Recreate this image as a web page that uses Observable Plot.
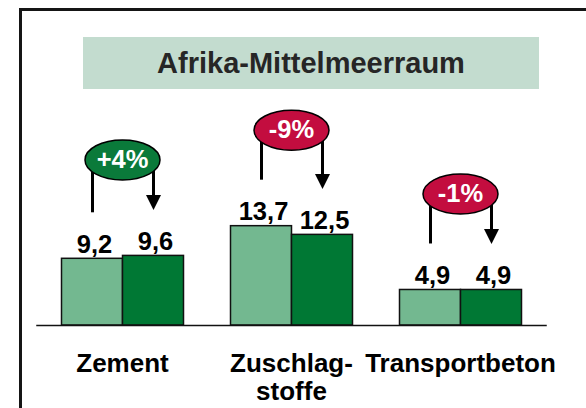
<!DOCTYPE html>
<html>
<head>
<meta charset="utf-8">
<script src="https://cdn.jsdelivr.net/npm/d3@7"></script>
<script src="https://cdn.jsdelivr.net/npm/@observablehq/plot@0.6"></script>
<style>
  html, body { margin: 0; padding: 0; background: #fff; }
  #wrap { position: relative; width: 586px; height: 408px; overflow: hidden; background: #fff; font-family: "Liberation Sans", Arial, sans-serif; }
  #frame { position: absolute; left: 19px; top: 8px; width: 800px; height: 800px; border-left: 3px solid #151515; border-top: 3px solid #151515; box-sizing: border-box; }
  #title { position: absolute; left: 83px; top: 37px; width: 456px; height: 52px; background: #c3dccf; color: #262626; font-weight: bold; font-size: 29px; line-height: 52px; text-align: center; }
  #chart { position: absolute; left: 0; top: 0; }
  #chart svg { overflow: visible; }
</style>
</head>
<body>
<div id="wrap">
  <div id="frame"></div>
  <div id="title">Afrika-Mittelmeerraum</div>
  <div id="chart"></div>
</div>
<script>
// ---- data ----
const categories = ["Zement", "Zuschlag-\nstoffe", "Transportbeton"];
const series = ["Vorjahr", "Berichtsjahr"];
const previousValues = [9.2, 13.7, 4.9];
const currentValues = [9.6, 12.5, 4.9];
const changes = ["+4%", "-9%", "-1%"];

// ---- styles ----
const barColors = ["#73b890", "#007834"];
const upColor = "#0a7a3a";
const downColor = "#c30d3f";

const rows = [];
categories.forEach((c, i) => {
  const gmax = Math.max(previousValues[i], currentValues[i]);
  rows.push({category: c, series: series[0], value: previousValues[i], groupMax: gmax, idx: 0});
  rows.push({category: c, series: series[1], value: currentValues[i], groupMax: gmax, idx: 1});
});
const groups = categories.map((c, i) => ({
  category: c,
  change: changes[i],
  groupMax: Math.max(previousValues[i], currentValues[i])
}));

const fmt = v => v.toFixed(1).replace(".", ",");

const ellipseSymbol = {
  draw(context) {
    const rx = 37.5, ry = 20, k = 0.5523;
    context.moveTo(rx, 0);
    context.bezierCurveTo(rx, ry * k, rx * k, ry, 0, ry);
    context.bezierCurveTo(-rx * k, ry, -rx, ry * k, -rx, 0);
    context.bezierCurveTo(-rx, -ry * k, -rx * k, -ry, 0, -ry);
    context.bezierCurveTo(rx * k, -ry, rx, -ry * k, rx, 0);
    context.closePath();
  }
};
const arrowSymbol = {
  draw(context) {
    context.moveTo(0, 0);
    context.lineTo(-7.5, -15);
    context.lineTo(7.5, -15);
    context.closePath();
  }
};

const ellipseOffset = -96;
const gap = -46;

const chart = Plot.plot({
  width: 586,
  height: 408,
  marginLeft: 60.5,
  marginRight: 64.5,
  marginTop: 35,
  marginBottom: 83,
  style: {background: "transparent", fontFamily: "'Liberation Sans', Arial, sans-serif", overflow: "visible"},
  fx: {domain: categories, paddingInner: 0.28, paddingOuter: 0, axis: null, label: null},
  x: {domain: series, padding: 0, axis: null, label: null},
  y: {domain: [0, 40], axis: null, label: null},
  color: {type: "identity"},
  marks: [
    Plot.barY(rows, {fx: "category", x: "series", y: "value", fill: d => barColors[d.idx], stroke: "#111", strokeWidth: 1.5}),
    Plot.frame({anchor: "bottom", facet: "super", insetLeft: -24.5, insetRight: -24.5, stroke: "#111", strokeWidth: 1.5}),
    // left connector lines
    Plot.ruleX(rows.filter(d => d.idx === 0), {fx: "category", x: "series", y1: "groupMax", y2: "value", insetTop: ellipseOffset, insetBottom: -gap, stroke: "#000", strokeWidth: 3}),
    // right arrow lines
    Plot.ruleX(rows.filter(d => d.idx === 1), {fx: "category", x: "series", y1: "groupMax", y2: "value", insetTop: ellipseOffset, insetBottom: -gap + 10, stroke: "#000", strokeWidth: 3}),
    Plot.dot(rows.filter(d => d.idx === 1), {fx: "category", x: "series", y: "value", dy: gap, symbol: arrowSymbol, fill: "#000", stroke: "none", r: 5}),
    // change ellipses
    Plot.dot(groups, {fx: "category", y: "groupMax", dy: ellipseOffset, symbol: ellipseSymbol, r: 5, fill: d => d.change.startsWith("+") ? upColor : downColor, stroke: "#000", strokeWidth: 1.5}),
    Plot.text(groups, {fx: "category", y: "groupMax", dy: ellipseOffset, text: "change", fill: "#fff", fontSize: 25.5, fontWeight: "bold", lineAnchor: "middle"}),
    // value labels
    Plot.text(rows, {fx: "category", x: "series", y: "value", text: d => fmt(d.value), dy: -6, dx: 2, lineAnchor: "bottom", fontSize: 25.5, fontWeight: "bold", fill: "#000"}),
    // category labels
    Plot.text(groups, {fx: "category", text: "category", frameAnchor: "bottom", lineAnchor: "top", dy: 26, fontSize: 26, fontWeight: "bold", lineHeight: 1.1, fill: "#000"})
  ]
});
document.getElementById("chart").appendChild(chart);
</script>
</body>
</html>
